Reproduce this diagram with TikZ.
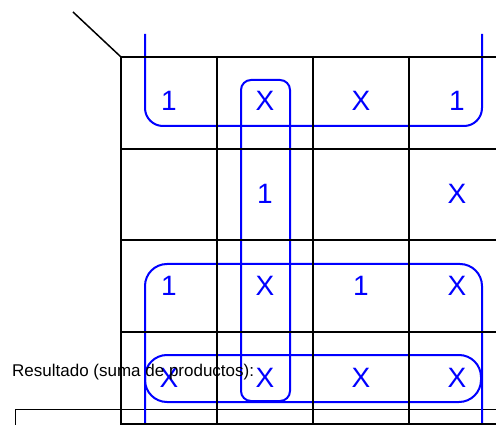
\documentclass[tikz,border=0pt]{standalone}
\usepackage{fontspec}
\setmainfont{Liberation Sans}
\begin{document}
\begin{tikzpicture}[x=1pt,y=-1pt,
  gridline/.style={line width=2pt,draw=black},
  kloop/.style={draw=blue,line width=2pt},
  cellval/.style={text=blue,font=\fontsize{28}{32}\selectfont,inner sep=0pt,anchor=center},
  resbox/.style={draw=black,line width=1pt}]
\useasboundingbox (0,0) rectangle (496,425);
\clip (0,0) rectangle (496,425);
% result box
\coordinate (rbl) at (15.5,440);
\coordinate (rtl) at (15.5,409.5);
\coordinate (rtr) at (520,409.5);
\draw[resbox] (rbl) -- (rtl) -- (rtr);
% loops
\draw[kloop,rounded corners=18] (145,34) -- (145,126) -- (482,126) -- (482,34);
\draw[kloop,rounded corners=10] (241,80) rectangle (290,401);
\draw[kloop,rounded corners=22] (145,440) -- (145,264) -- (482,264) -- (482,440);
\draw[kloop,rounded corners=22] (145,355) rectangle (481,402);
% grid
\foreach \gx in {121,217,313,409,505}
  \draw[gridline] (\gx,56) -- (\gx,440);
\foreach \gy in {57,149,240,332,424}
  \draw[gridline] (120,\gy) -- (520,\gy);
% diagonal
\coordinate (diagend) at (73,12);
\coordinate (corner) at (121,57);
\draw[line width=1.5pt] (diagend) -- (corner);
% cell values
\node[cellval] (c11) at (169,100.5) {1};
\node[cellval] (c12) at (265,100.5) {X};
\node[cellval] (c13) at (361,100.5) {X};
\node[cellval] (c14) at (457,100.5) {1};
\node[cellval] (c22) at (265,194) {1};
\node[cellval] (c24) at (457,194) {X};
\node[cellval] (c31) at (169,285.5) {1};
\node[cellval] (c32) at (265,285.5) {X};
\node[cellval] (c33) at (361,285.5) {1};
\node[cellval] (c34) at (457,285.5) {X};
\node[cellval] (c41) at (169,377.5) {X};
\node[cellval] (c42) at (265,377.5) {X};
\node[cellval] (c43) at (361,377.5) {X};
\node[cellval] (c44) at (457,377.5) {X};
% result label
\node[anchor=base west,inner sep=0pt,font=\fontsize{17}{20}\selectfont] (reslabel) at (12,376.3) {Resultado (suma de productos):};
\end{tikzpicture}
\end{document}
